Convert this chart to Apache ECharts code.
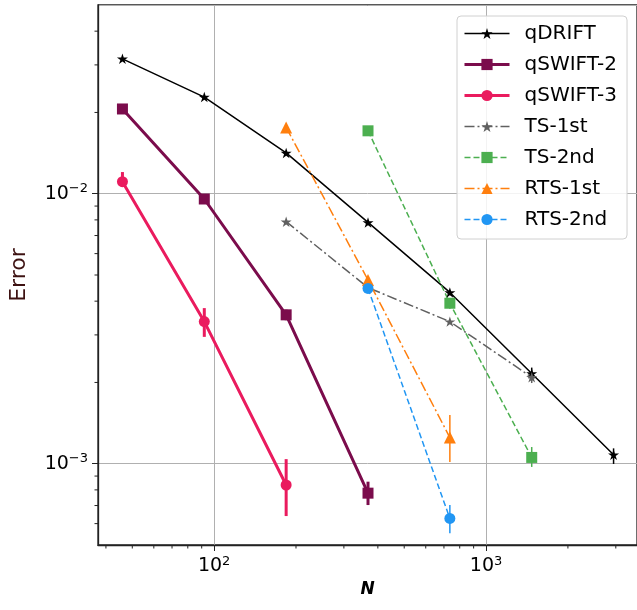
<!DOCTYPE html>
<html>
<head>
<meta charset="utf-8">
<script src="https://cdn.jsdelivr.net/npm/echarts@6/dist/echarts.min.js"></script>
<style>
html, body { margin: 0; padding: 0; background: #fff; }
#chart { width: 637px; height: 610px; }
</style>
</head>
<body>
<div id="chart"></div>
<script>
// 数据: 横轴 N, 纵轴 Error (对数坐标)
var nAll = [46, 92, 184, 368, 736, 1472, 2944];
var qdrift = [0.0316, 0.0228, 0.01416, 0.00783, 0.00431, 0.00216, 0.00108];
var qdriftErr = [null, null, null, null, null, [0.00205, 0.00227], [0.000998, 0.00114]];

var nQswift2 = [46, 92, 184, 368];
var qswift2 = [0.0206, 0.00956, 0.00356, 0.000778];
var qswift2Err = [null, null, [0.00340, 0.00372], [0.000703, 0.000858]];

var nQswift3 = [46, 92, 184];
var qswift3 = [0.01108, 0.00336, 0.000834];
var qswift3Err = [[0.01059, 0.01203], [0.00295, 0.00377], [0.00064, 0.00104]];

var nTs1 = [184, 368, 736, 1472];
var ts1 = [0.00788, 0.00449, 0.00336, 0.00209];
var ts1Err = [null, null, null, [0.00199, 0.00217]];

var nTs2 = [368, 736, 1472];
var ts2 = [0.0171, 0.00393, 0.001055];
var ts2Err = [null, [0.00375, 0.0041], [0.000973, 0.001153]];

var nRts1 = [184, 368, 736];
var rts1 = [0.0176, 0.00479, 0.00125];
var rts1Err = [null, null, [0.001015, 0.001515]];

var nRts2 = [368, 736];
var rts2 = [0.00446, 0.000627];
var rts2Err = [null, [0.000553, 0.000703]];

// 对数轴的次刻度
var xMinorTicks = [40, 50, 60, 70, 80, 90, 200, 300, 400, 500, 600, 700, 800, 900, 2000, 3000];
var yMinorTicks = [0.0006, 0.0007, 0.0008, 0.0009, 0.002, 0.003, 0.004, 0.005, 0.006, 0.007, 0.008, 0.009, 0.02, 0.03, 0.04];

var X_MIN = 37.4, X_MAX = 3590;
var Y_MIN = 0.0005, Y_MAX = 0.05;

var star = 'path://M100,0L122.45,69.1L195.1,69.1L136.3,111.8L158.8,180.9L100,138.2L41.2,180.9L63.7,111.8L4.9,69.1L77.55,69.1Z';

var chart = echarts.init(document.getElementById('chart'));

function pairs(xs, ys) {
    return xs.map(function (x, i) { return [x, ys[i]]; });
}

var errData = [];
function addErr(xs, errs, color, width) {
    errs.forEach(function (e, i) {
        if (e) errData.push({ value: [xs[i], e[0], e[1], width], itemStyle: { color: color } });
    });
}

var C = {
    qdrift: '#000000', qswift2: '#7b0c4c', qswift3: '#ea1b5e',
    ts1: '#606060', ts2: '#4caf50', rts1: '#ff7f0e', rts2: '#2196f3'
};

addErr(nAll, qdriftErr, C.qdrift, 1.5);
addErr(nQswift2, qswift2Err, C.qswift2, 3);
addErr(nQswift3, qswift3Err, C.qswift3, 3);
addErr(nTs1, ts1Err, C.ts1, 1.5);
addErr(nTs2, ts2Err, C.ts2, 1.5);
addErr(nRts1, rts1Err, C.rts1, 1.5);
addErr(nRts2, rts2Err, C.rts2, 1.5);

function supLabel(v) {
    var e = Math.round(Math.log10(v));
    return '{b|10}{s|' + String(e).replace('-', '\u2212') + '}';
}

var labelRich = {
    b: { fontSize: 19, fontFamily: 'DejaVu Sans', color: '#000' },
    s: { fontSize: 13, fontFamily: 'DejaVu Sans', color: '#000', padding: [0, 0, 10, 0] }
};

function lineSeries(name, xs, ys, color, width, type, symbol, size) {
    return {
        name: name,
        type: 'line',
        data: pairs(xs, ys),
        symbol: symbol,
        symbolSize: size,
        symbolKeepAspect: true,
        showSymbol: true,
        lineStyle: { color: color, width: width, type: type },
        itemStyle: { color: color, borderWidth: 0 },
        z: 3,
        animation: false
    };
}

var option = {
    animation: false,
    backgroundColor: '#fff',
    grid: {
        left: 97, right: -3, top: 5, bottom: 65,
        show: true, borderColor: '#222', borderWidth: 1.3
    },
    legend: {
        orient: 'vertical',
        left: 457, top: 16,
        padding: [7, 10, 9, 6],
        itemWidth: 45, itemHeight: 14, itemGap: 10,
        backgroundColor: 'rgba(255,255,255,0.85)',
        borderColor: '#d0d0d0', borderWidth: 1, borderRadius: 4,
        textStyle: { fontSize: 20, fontFamily: 'DejaVu Sans', color: '#000', lineHeight: 21, padding: [0, 0, 0, 10] },
        data: [
            { name: 'qDRIFT', lineStyle: { width: 1.5 } },
            { name: 'qSWIFT-2', lineStyle: { width: 3 } },
            { name: 'qSWIFT-3', lineStyle: { width: 3 } },
            { name: 'TS-1st', lineStyle: { width: 1.5 } },
            { name: 'TS-2nd', lineStyle: { width: 1.5 } },
            { name: 'RTS-1st', lineStyle: { width: 1.5 } },
            { name: 'RTS-2nd', lineStyle: { width: 1.5 } }
        ]
    },
    xAxis: {
        type: 'log', logBase: 10, min: X_MIN, max: X_MAX,
        name: 'N', nameLocation: 'middle', nameGap: 36,
        nameTextStyle: { fontSize: 17, fontStyle: 'italic', fontWeight: 'bold', fontFamily: 'DejaVu Sans', color: '#000' },
        axisLine: { lineStyle: { color: '#222', width: 1.3 } },
        axisTick: { length: 6, lineStyle: { color: '#222', width: 1 } },
        axisLabel: {
            formatter: supLabel, rich: labelRich, margin: 10,
            showMinLabel: false, showMaxLabel: false
        },
        splitLine: { show: true, lineStyle: { color: '#b0b0b0', width: 1 } },
        minorTick: { show: false }
    },
    yAxis: {
        type: 'log', logBase: 10, min: Y_MIN, max: Y_MAX,
        name: 'Error', nameLocation: 'middle', nameGap: 68, nameRotate: 90,
        nameTextStyle: { fontSize: 22, fontFamily: 'DejaVu Sans', color: '#3d1212' },
        axisLine: { lineStyle: { color: '#222', width: 1.3 } },
        axisTick: { length: 6, lineStyle: { color: '#222', width: 1 } },
        axisLabel: {
            formatter: supLabel, rich: labelRich, margin: 10,
            showMinLabel: false, showMaxLabel: false
        },
        splitLine: { show: true, lineStyle: { color: '#b0b0b0', width: 1 } }
    },
    series: [
        lineSeries('qDRIFT', nAll, qdrift, C.qdrift, 1.5, 'solid', star, 11),
        lineSeries('qSWIFT-2', nQswift2, qswift2, C.qswift2, 3, 'solid', 'rect', 11),
        lineSeries('qSWIFT-3', nQswift3, qswift3, C.qswift3, 3, 'solid', 'circle', 11),
        lineSeries('TS-1st', nTs1, ts1, C.ts1, 1.5, [10, 3, 2, 3], star, 11),
        lineSeries('TS-2nd', nTs2, ts2, C.ts2, 1.5, [6, 3], 'rect', 11),
        lineSeries('RTS-1st', nRts1, rts1, C.rts1, 1.5, [10, 3, 2, 3], 'triangle', 12),
        lineSeries('RTS-2nd', nRts2, rts2, C.rts2, 1.5, [6, 3], 'circle', 11),
        {
            // 误差棒
            name: 'errorbars',
            type: 'custom',
            data: errData,
            encode: { x: 0, y: [1, 2] },
            z: 2,
            renderItem: function (params, api) {
                var p1 = api.coord([api.value(0), api.value(1)]);
                var p2 = api.coord([api.value(0), api.value(2)]);
                return {
                    type: 'line',
                    shape: { x1: p1[0], y1: p1[1], x2: p2[0], y2: p2[1] },
                    style: { stroke: api.visual('color'), lineWidth: api.value(3) }
                };
            }
        },
        {
            name: 'xminor',
            type: 'custom',
            silent: true,
            clip: false,
            data: xMinorTicks.map(function (v) { return [v, Y_MIN]; }),
            renderItem: function (params, api) {
                var c = api.coord([api.value(0), api.value(1)]);
                return { type: 'line', shape: { x1: c[0], y1: c[1], x2: c[0], y2: c[1] + 3.5 }, style: { stroke: '#222', lineWidth: 1 } };
            }
        },
        {
            name: 'yminor',
            type: 'custom',
            silent: true,
            clip: false,
            data: yMinorTicks.map(function (v) { return [X_MIN, v]; }),
            renderItem: function (params, api) {
                var c = api.coord([api.value(0), api.value(1)]);
                return { type: 'line', shape: { x1: c[0], y1: c[1], x2: c[0] - 3.5, y2: c[1] }, style: { stroke: '#222', lineWidth: 1 } };
            }
        }
    ]
};

chart.setOption(option);
window.addEventListener('resize', function () {
    chart.resize();
});
</script>
</body>
</html>
